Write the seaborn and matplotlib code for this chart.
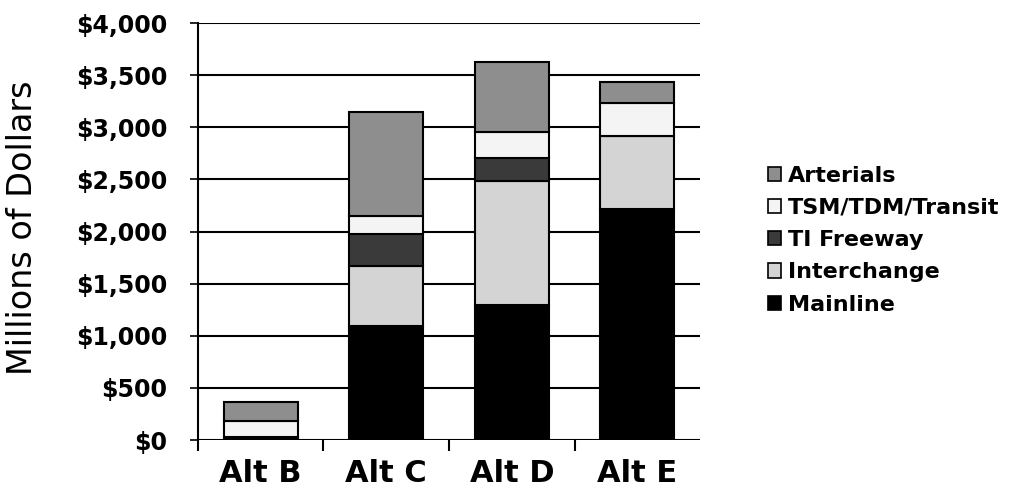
import matplotlib
matplotlib.use("Agg")
import matplotlib.pyplot as plt
import seaborn as sns
import numpy as np
from matplotlib.patches import Patch
from matplotlib.ticker import FuncFormatter, FixedLocator

categories = ["Alt B", "Alt C", "Alt D", "Alt E"]
mainline = [30, 1095, 1296, 2220]
interchange = [0, 575, 1190, 697]
ti_freeway = [0, 305, 224, 0]
tsm_tdm_transit = [155, 175, 240, 314]
arterials = [175, 1000, 676, 208]

series_names = ["Mainline", "Interchange", "TI Freeway", "TSM/TDM/Transit", "Arterials"]
series_vals = [mainline, interchange, ti_freeway, tsm_tdm_transit, arterials]
colors = ["#000000", "#d4d4d4", "#3a3a3a", "#f4f4f4", "#8e8e8e"]

sns.set_theme(style="white")
plt.rcParams["font.family"] = ["DejaVu Sans"]
plt.rcParams["text.color"] = "black"

fig = plt.figure(figsize=(10.09, 4.9), dpi=100)
ax = fig.add_axes([0.196, 0.102, 0.498, 0.851])

bottom = np.zeros(len(categories))
for name, vals, c in zip(series_names, series_vals, colors):
    sns.barplot(x=categories, y=vals, bottom=bottom, color=c, edgecolor="black",
                linewidth=1.5, width=0.59, ax=ax, zorder=3, saturation=1)
    bottom = bottom + np.array(vals)

ax.set_ylim(0, 4000)
ax.set_xlim(-0.5, 3.5)
ax.set_yticks(np.arange(0, 4001, 500))
ax.yaxis.set_major_formatter(FuncFormatter(lambda v, p: f"${int(v):,}"))
ax.grid(axis="y", color="black", linewidth=1.5, zorder=0)
ax.grid(axis="x", visible=False)
ax.set_axisbelow(True)

for s in ["top", "right", "bottom"]:
    ax.spines[s].set_visible(False)
ax.spines["left"].set_color("black")
ax.spines["left"].set_linewidth(1.5)
ax.axhline(0, color="black", linewidth=1.8, zorder=4)

ax.tick_params(axis="y", which="major", left=True, length=6, width=1.2, color="black",
               pad=16, labelsize=17, labelcolor="black")
for lab in ax.get_yticklabels():
    lab.set_fontweight("bold")
ax.tick_params(axis="x", which="major", bottom=True, length=0, pad=14, labelsize=22,
               labelcolor="black")
for lab in ax.get_xticklabels():
    lab.set_fontweight("bold")
ax.xaxis.set_minor_locator(FixedLocator([-0.5, 0.5, 1.5, 2.5]))
ax.tick_params(axis="x", which="minor", bottom=True, length=8, width=1.5, color="black")

ax.set_ylabel("Millions of Dollars", fontsize=24, color="black")
ax.yaxis.set_label_coords(-0.315, 0.508)
ax.set_xlabel("")

handles = [Patch(facecolor=c, edgecolor="black", linewidth=1.2, label=n)
           for n, c in zip(series_names, colors)][::-1]
leg = fig.legend(handles=handles, loc="center left", bbox_to_anchor=(0.752, 0.51),
                 frameon=False, prop={"size": 16, "weight": "bold"}, labelcolor="black",
                 handlelength=0.6, handleheight=0.6, handletextpad=0.3,
                 labelspacing=0.55, borderaxespad=0)

fig.savefig("out.png", dpi=100, facecolor="white")
